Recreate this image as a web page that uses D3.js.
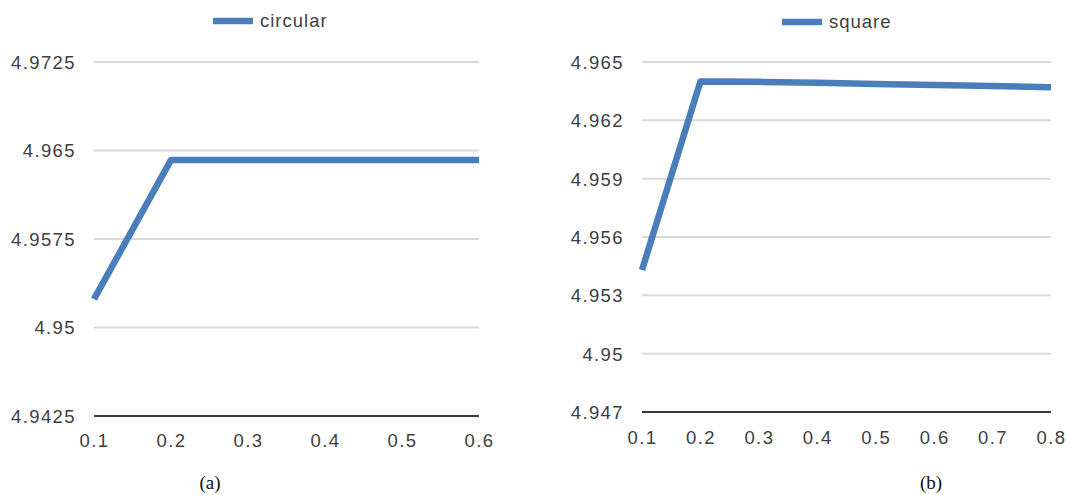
<!DOCTYPE html>
<html>
<head>
<meta charset="utf-8">
<script src="https://cdn.jsdelivr.net/npm/d3@7"></script>
<style>
  html, body { margin: 0; padding: 0; background: #fff; }
  svg { display: block; }
</style>
</head>
<body>
<svg id="chart" width="1068" height="495"></svg>
<script>
// Panel (a): circular
const circularX = [0.1, 0.2, 0.3, 0.4, 0.5, 0.6];
const circularY = [4.9524, 4.9642, 4.9642, 4.9642, 4.9642, 4.9642];
const circularTicks = [4.9425, 4.95, 4.9575, 4.965, 4.9725];
const circularTickLabels = ["4.9425", "4.95", "4.9575", "4.965", "4.9725"];

// Panel (b): square
const squareX = [0.1, 0.2, 0.3, 0.4, 0.5, 0.6, 0.7, 0.8];
const squareY = [4.9543, 4.9640, 4.96398, 4.96393, 4.96387, 4.96382, 4.96377, 4.9637];
const squareTicks = [4.947, 4.95, 4.953, 4.956, 4.959, 4.962, 4.965];
const squareTickLabels = ["4.947", "4.95", "4.953", "4.956", "4.959", "4.962", "4.965"];

const svg = d3.select("#chart");
const lineColor = "#4a7ebb";
const textColor = "#404040";
const sansFont = "Liberation Sans, Arial, sans-serif";
const labelSize = 18.5;
const labelSpacing = 1.4;

function styleLabels(sel) {
  sel.attr("font-family", sansFont)
    .attr("font-size", labelSize)
    .attr("letter-spacing", labelSpacing)
    .attr("fill", textColor)
    .attr("dy", "0.35em");
}

function panel(cfg) {
  const g = svg.append("g");
  const x = d3.scaleLinear().domain(d3.extent(cfg.xs)).range([cfg.left, cfg.right]);
  const y = d3.scaleLinear().domain(d3.extent(cfg.ticks)).range([cfg.bottom, cfg.top]);

  // horizontal gridlines
  g.selectAll("line.grid")
    .data(cfg.ticks.slice(1))
    .join("line")
    .attr("class", "grid")
    .attr("x1", cfg.left).attr("x2", cfg.right)
    .attr("y1", d => y(d)).attr("y2", d => y(d))
    .attr("stroke", "#d9d9d9").attr("stroke-width", 2);

  // baseline
  g.append("line")
    .attr("x1", cfg.left).attr("x2", cfg.right)
    .attr("y1", y(cfg.ticks[0])).attr("y2", y(cfg.ticks[0]))
    .attr("stroke", "#3a3a3a").attr("stroke-width", 2);

  // y tick labels
  const yAxis = d3.axisLeft(y).tickValues(cfg.ticks)
    .tickFormat((d, i) => cfg.tickLabels[i]).tickSize(0).tickPadding(0);
  const ya = g.append("g").attr("transform", `translate(${cfg.yLabelX},0)`).call(yAxis);
  ya.select(".domain").remove();
  ya.selectAll("text").call(styleLabels);

  // x tick labels
  const xAxis = d3.axisBottom(x).tickValues(cfg.xs).tickFormat(d3.format(".1f"))
    .tickSize(0).tickPadding(0);
  const xa = g.append("g").attr("transform", `translate(0,${cfg.xLabelY})`).call(xAxis);
  xa.select(".domain").remove();
  xa.selectAll("text").call(styleLabels);

  // data line
  const line = d3.line().x((d, i) => x(cfg.xs[i])).y(d => y(d));
  g.append("path")
    .datum(cfg.ys)
    .attr("d", line)
    .attr("fill", "none")
    .attr("stroke", lineColor)
    .attr("stroke-width", 6.5)
    .attr("stroke-linejoin", "round");

  // legend
  g.append("line")
    .attr("x1", cfg.legendX).attr("x2", cfg.legendX + 40)
    .attr("y1", cfg.legendY).attr("y2", cfg.legendY)
    .attr("stroke", lineColor).attr("stroke-width", 6.5);
  g.append("text")
    .attr("x", cfg.legendX + 47).attr("y", cfg.legendY)
    .call(styleLabels)
    .attr("letter-spacing", 1)
    .text(cfg.name);

  // caption
  g.append("text")
    .attr("x", cfg.captionX).attr("y", 489)
    .attr("text-anchor", "middle")
    .attr("font-family", "Liberation Serif, Times New Roman, serif")
    .attr("font-size", 19).attr("fill", "#111")
    .text(cfg.caption);
}

panel({
  xs: circularX, ys: circularY, ticks: circularTicks, tickLabels: circularTickLabels,
  left: 94, right: 479, top: 62, bottom: 416,
  yLabelX: 76, xLabelY: 441,
  legendX: 213, legendY: 21, name: "circular",
  captionX: 210, caption: "(a)"
});

panel({
  xs: squareX, ys: squareY, ticks: squareTicks, tickLabels: squareTickLabels,
  left: 642, right: 1051, top: 62, bottom: 412,
  yLabelX: 624, xLabelY: 438,
  legendX: 782, legendY: 22, name: "square",
  captionX: 931, caption: "(b)"
});
</script>
</body>
</html>
